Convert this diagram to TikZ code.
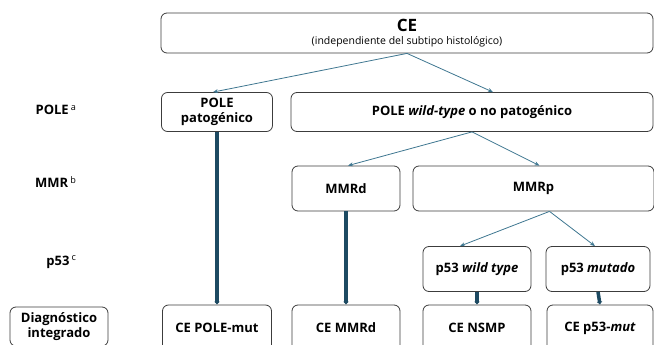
\documentclass[tikz,border=0pt]{standalone}
\usepackage{fontspec}
\setmainfont{Open Sans}
\usetikzlibrary{arrows.meta}
\definecolor{thinblue}{HTML}{3E7690}
\definecolor{thickblue}{HTML}{1D4A62}
\definecolor{boxgray}{HTML}{3C3C3C}

\begin{document}
\begin{tikzpicture}[x=1pt,y=-1pt,
  box/.style={draw=boxgray,line width=0.8pt,rounded corners=6pt,align=center,
    font=\fontsize{13}{15}\selectfont\bfseries,inner sep=0pt},
  rowlabel/.style={anchor=east,font=\fontsize{13}{15}\selectfont\bfseries},
  thinarrow/.style={thinblue,line width=0.8pt,-{Stealth[length=5pt,width=4pt]}},
  thickarrow/.style={thickblue,line width=3.5pt,-{Latex[length=3pt,width=6pt]}}]

\useasboundingbox (0,0) rectangle (654,345);
\clip (0,0) rectangle (654,345);

%row labels
\node[rowlabel] (lpole) at (80,110) {POLE\,\textsuperscript{\mdseries a}};
\node[rowlabel] (lmmr) at (80,182) {MMR\,\textsuperscript{\mdseries b}};
\node[rowlabel] (lp53) at (80,262) {p53\,\textsuperscript{\mdseries c}};
\node[box,minimum width=98pt,minimum height=39pt] (diag) at (59,326.5) {Diagnóstico\\integrado};

%CE
\node[box,minimum width=492pt,minimum height=40pt] (ce) at (407,33)
  {{\fontsize{17}{18}\selectfont CE}\\[-2pt]{\fontsize{10.5}{12}\selectfont\mdseries (independiente del subtipo histológico)}};

%POLE
\node[box,minimum width=111pt,minimum height=39pt] (polepat) at (217,112) {POLE\\patogénico};
\node[box,minimum width=362pt,minimum height=39pt] (polewt) at (472,112) {POLE \textit{wild-type} o no patogénico};

%MMR
\node[box,minimum width=108pt,minimum height=45pt] (mmrd) at (346,188.5) {MMRd};
\node[box,minimum width=241pt,minimum height=45pt] (mmrp) at (533.5,188.5) {MMRp};

%p53
\node[box,minimum width=108pt,minimum height=45pt] (ptwt) at (477,269) {p53 \textit{wild type}};
\node[box,minimum width=104pt,minimum height=45pt] (ptmut) at (598,269) {p53 \textit{mutado}};

%diagnostico
\node[box,minimum width=109pt,minimum height=46pt] (cepole) at (217,328) {CE POLE-mut};
\node[box,minimum width=108pt,minimum height=46pt] (cemmrd) at (346,328) {CE MMRd};
\node[box,minimum width=108pt,minimum height=46pt] (censmp) at (477,328) {CE NSMP};
\node[box,minimum width=106pt,minimum height=46pt] (cep53) at (600,328) {CE p53-\textit{mut}};

\draw[thinarrow] (ce.south) -- ([xshift=-4pt]polepat.north);
\draw[thinarrow] (ce.south) -- ([xshift=21pt]polewt.north);
\draw[thinarrow] (polewt.south) -- ([xshift=2pt]mmrd.north);
\draw[thinarrow] (polewt.south) -- ([xshift=6pt]mmrp.north);
\draw[thinarrow] ([xshift=16pt]mmrp.south) -- ([xshift=-17pt]ptwt.north);
\draw[thinarrow] ([xshift=16pt]mmrp.south) -- ([xshift=-3pt]ptmut.north);

\draw[thickarrow] (polepat.south) -- (cepole.north);
\draw[thickarrow] (mmrd.south) -- (cemmrd.north);
\draw[thickarrow] (ptwt.south) -- (censmp.north);
\draw[thickarrow] (ptmut.south) -- (cep53.north);

\end{tikzpicture}
\end{document}
